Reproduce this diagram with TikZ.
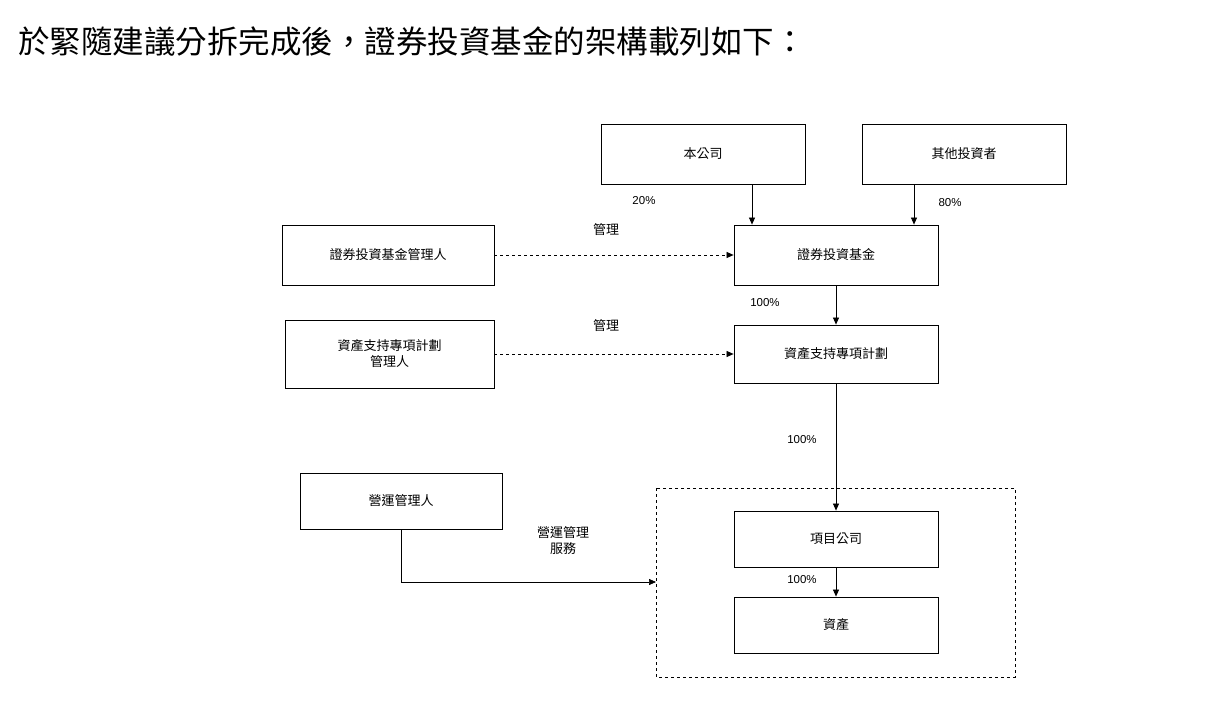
\documentclass[tikz,border=0pt]{standalone}
\usepackage{fontspec}
\setmainfont{Liberation Sans}
\newfontfamily\cjk{Noto Sans CJK TC}
\usetikzlibrary{arrows.meta}
\begin{document}
\begin{tikzpicture}[x=1pt,y=-1pt,
  box/.style={draw,line width=0.8pt,minimum width=204pt,minimum height=60pt,inner sep=0pt,font=\cjk\fontsize{13}{16}\selectfont,align=center},
  arr/.style={-{Triangle[length=7pt,width=6pt]},line width=0.7pt},
  lab/.style={font=\cjk\fontsize{13}{16}\selectfont,align=center},
  pct/.style={font=\fontsize{11.5}{13}\selectfont}]
\useasboundingbox (0,0) rectangle (1216,720);
\node[anchor=west,font=\cjk\fontsize{31.5}{36}\selectfont,inner sep=0pt] (title) at (18,42) {於緊隨建議分拆完成後，證券投資基金的架構載列如下：};
\node[box] (gs) at (703,154) {本公司};
\node[box] (qt) at (964,154) {其他投資者};
\node[box,minimum width=212pt] (fm) at (388,255) {證券投資基金管理人};
\node[box] (fund) at (836,255) {證券投資基金};
\node[box,minimum width=209pt,minimum height=68pt] (am) at (389.5,354) {資產支持專項計劃\\管理人};
\node[box,minimum height=58pt] (abs) at (836,354) {資產支持專項計劃};
\node[box,minimum width=202pt,minimum height=56pt] (om) at (401,501) {營運管理人};
\node[box,minimum height=56pt] (pc) at (836,539) {項目公司};
\node[box,minimum height=56pt] (as) at (836,625) {資產};
\draw[dashed,line width=0.7pt] (656,488) rectangle (1015,677);
\coordinate (cl) at (656,582);
\draw[arr] (gs.south -| 752,0) -- (fund.north -| 752,0);
\draw[arr] (qt.south -| 914,0) -- (fund.north -| 914,0);
\node[pct] at (644,201) {20\%};
\node[pct] at (950,203) {80\%};
\draw[arr,dashed] (fm.east) -- (fund.west);
\node[lab] at (606,230) {管理};
\draw[arr,dashed] (am.east) -- (abs.west);
\node[lab] at (606,326) {管理};
\draw[arr] (fund.south) -- (abs.north);
\node[pct] at (765,303) {100\%};
\draw[arr] (abs.south) -- (pc.north);
\node[pct] at (802,440) {100\%};
\draw[arr] (pc.south) -- (as.north);
\node[pct] at (802,580) {100\%};
\draw[arr] (om.south) -- (om.south |- cl) -- (cl);
\node[lab,align=center] at (563,541) {營運管理\\服務};
\end{tikzpicture}
\end{document}
